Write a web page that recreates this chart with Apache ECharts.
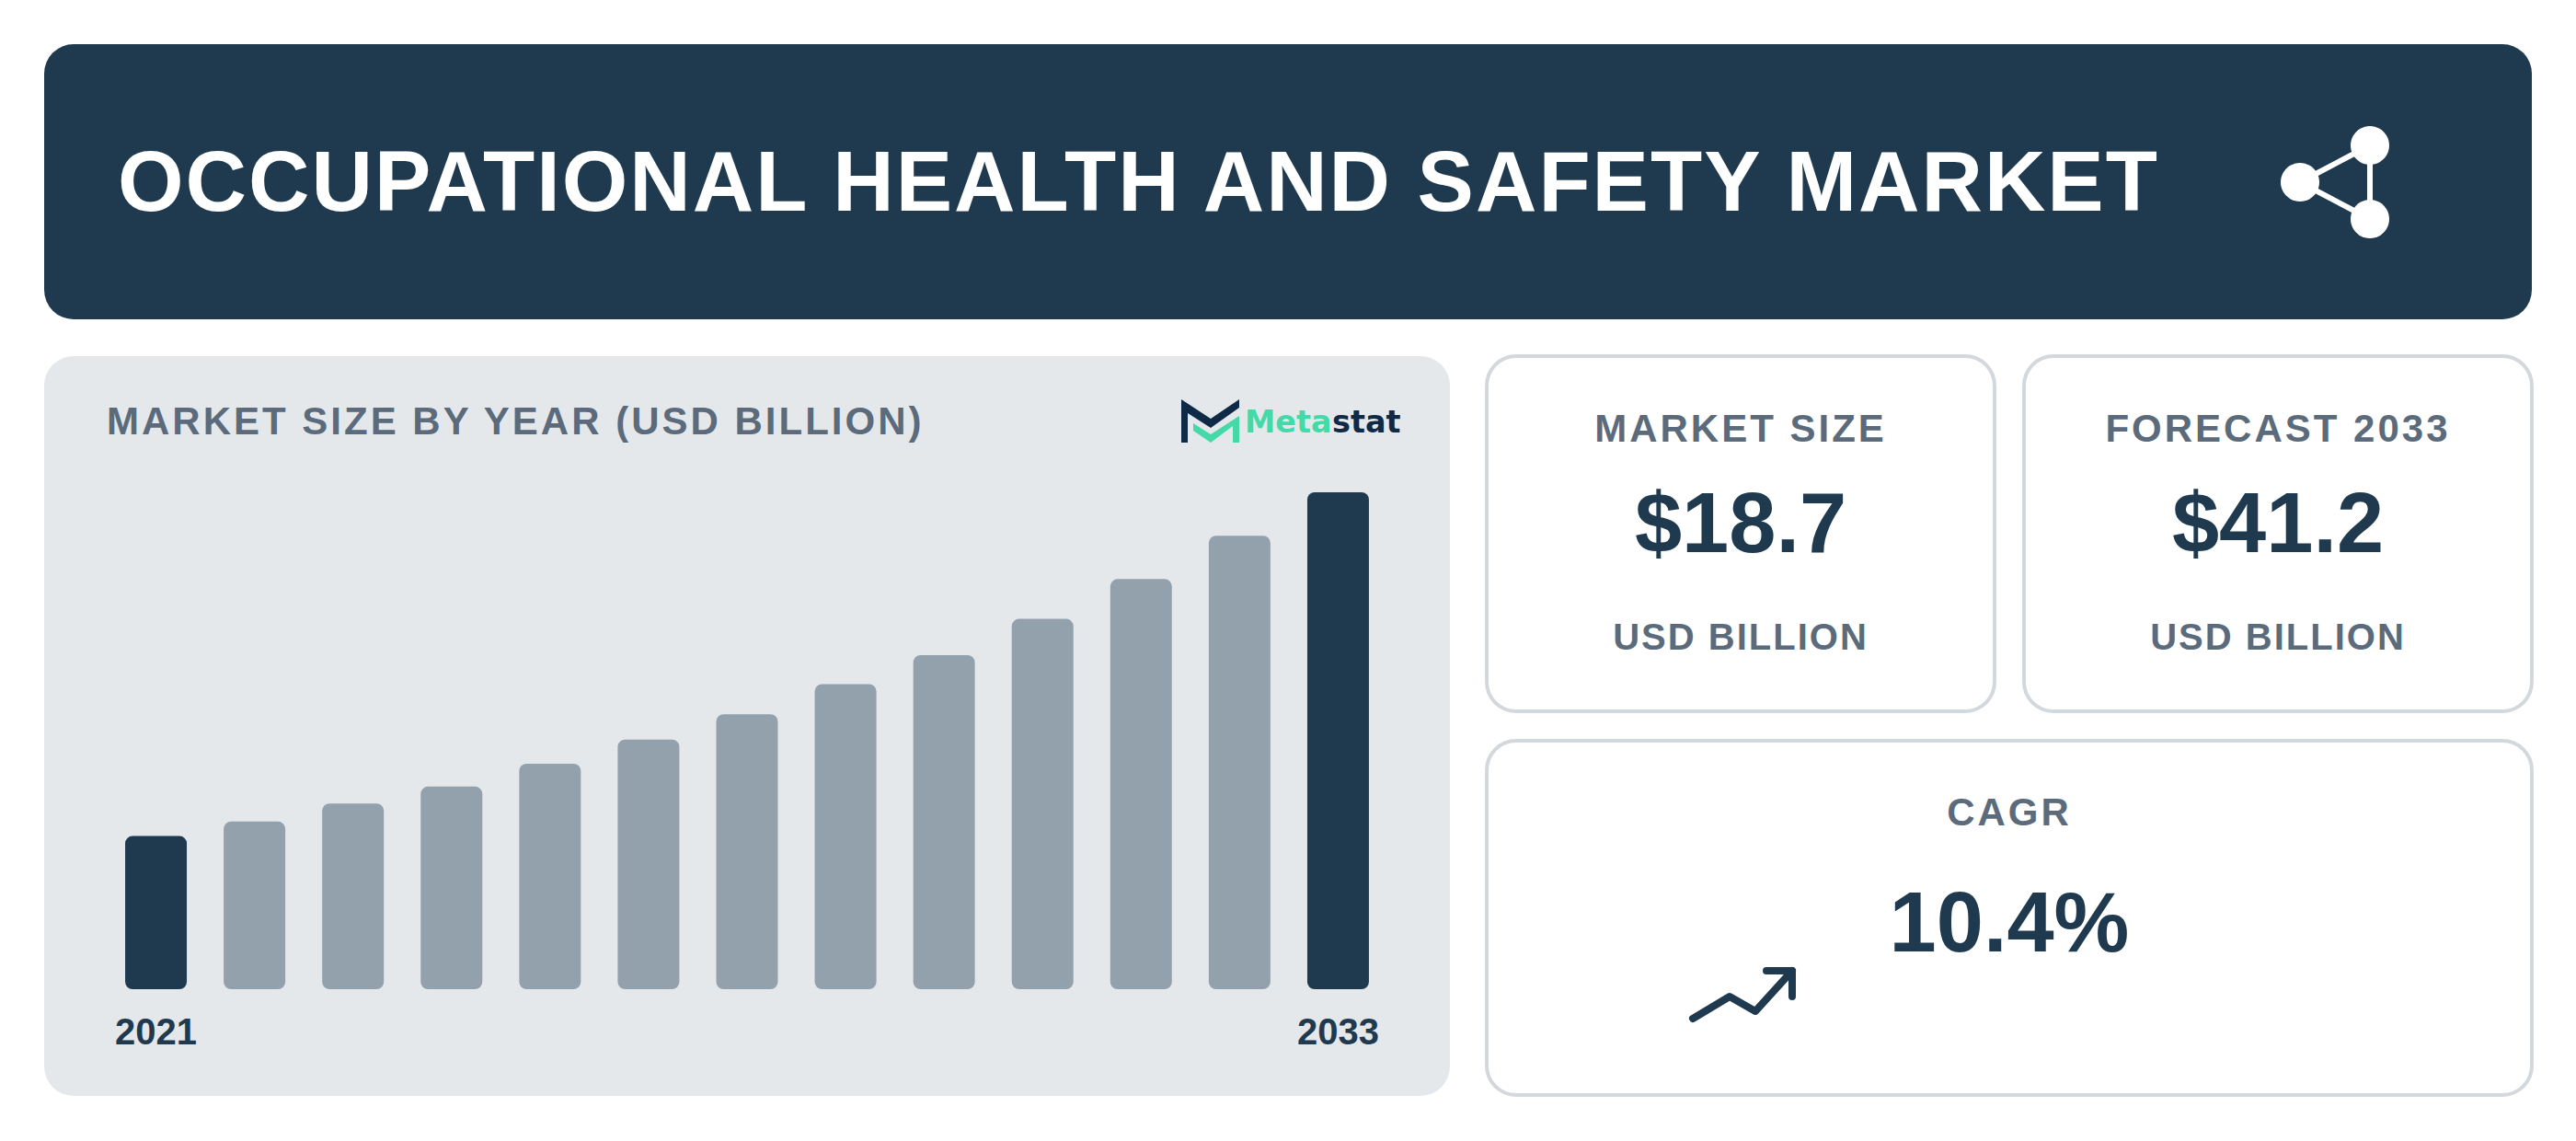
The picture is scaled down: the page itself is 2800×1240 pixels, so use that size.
<!DOCTYPE html>
<html lang="en">
<head>
	<meta charset="utf-8" />
	<title>Occupational Health and Safety Market</title>
	<style type="text/css">
		html,body{margin:0;padding:0;background:#fff;}
		#main{width:2800px;height:1240px;}
	</style>
</head>
<body>
	<div id="main"></div>
<script src="https://cdn.jsdelivr.net/npm/echarts@6/dist/echarts.min.js"></script>
<script>
	// values
	var years = ['2021','2022','2023','2024','2025','2026','2027','2028','2029','2030','2031','2032','2033'];
	var marketSize = [12.7,13.9,15.4,16.8,18.7,20.7,22.8,25.3,27.7,30.7,34.0,37.6,41.2];
	var chartTitle = 'OCCUPATIONAL HEALTH AND SAFETY MARKET';
	var panelTitle = 'MARKET SIZE BY YEAR (USD BILLION)';
	var cardLabels = ['MARKET SIZE','FORECAST 2033','CAGR'];
	var cardValues = ['$18.7','$41.2','10.4%'];
	var cardUnit = 'USD BILLION';

	var DARK = '#1f3a4f', GREY = '#93a1ad', PANEL = '#e5e8eb', EDGE = '#d3d8dc', MUTED = '#5b6b7c';
	var FONT = '"Liberation Sans", Arial, sans-serif';
	var LOGO_FONT = '"DejaVu Sans", sans-serif';

	function label(text, x, y, size, color, align, font){
		return {
			type: 'text', z: 3, x: x, y: y,
			style: {
				text: text, fill: color, align: align || 'center', verticalAlign: 'middle',
				fontFamily: font || FONT, fontSize: size, fontWeight: 'bold'
			}
		};
	}
	function box(x, y, w, h, r, fill, stroke){
		return {
			type: 'rect', z: 0,
			shape: {x: x, y: y, width: w, height: h, r: r},
			style: {fill: fill, stroke: stroke || null, lineWidth: stroke ? 4 : 0}
		};
	}
	function circle(cx, cy, r){
		return {type: 'circle', z: 3, shape: {cx: cx, cy: cy, r: r}, style: {fill: '#fff'}};
	}
	function stroke(points, color, width){
		return {
			type: 'polyline', z: 3, shape: {points: points},
			style: {fill: null, stroke: color, lineWidth: width, lineCap: 'round', lineJoin: 'round'}
		};
	}
	function poly(points, color){
		return {type: 'polygon', z: 3, shape: {points: points}, style: {fill: color}};
	}

	var graphics = [
		// header
		box(48, 48, 2704, 299, 32, DARK),
		label(chartTitle, 128, 197, 92, '#fff', 'left'),
		stroke([[2576,158],[2500,198],[2576,238],[2576,158]], '#fff', 6),
		circle(2576, 158, 21), circle(2500, 198, 21), circle(2576, 238, 21),
		// chart panel
		box(48, 387, 1528, 804, 32, PANEL),
		label(panelTitle, 116, 457, 42, MUTED, 'left'),
		// logo
		poly([[1284,434],[1316,455],[1347,434],[1347,443],[1316,465],[1291,449],[1291,481],[1284,481]], '#0f2a47'),
		poly([[1297,460],[1316,472],[1347,452],[1347,481],[1340,481],[1340,463],[1316,481],[1297,468]], '#46d9a8'),
		label('Meta', 1353, 458, 33.5, '#46d9a8', 'left', LOGO_FONT),
		label('stat', 1448, 458, 33.5, '#0f2a47', 'left', LOGO_FONT),
		// KPI cards
		box(1616, 387, 552, 386, 32, '#fff', EDGE),
		box(2200, 387, 552, 386, 32, '#fff', EDGE),
		box(1616, 805, 1136, 385, 32, '#fff', EDGE),
		label(cardLabels[0], 1892, 465, 42, MUTED),
		label(cardValues[0], 1892, 568, 92, DARK),
		label(cardUnit, 1892, 692, 40, MUTED),
		label(cardLabels[1], 2476, 465, 42, MUTED),
		label(cardValues[1], 2476, 568, 92, DARK),
		label(cardUnit, 2476, 692, 40, MUTED),
		label(cardLabels[2], 2184, 882, 42, MUTED),
		label(cardValues[2], 2184, 1002, 92, DARK),
		// trend arrow
		stroke([[1840,1107],[1880,1083],[1908,1099],[1948,1055]], DARK, 8),
		stroke([[1920,1055],[1948,1055],[1948,1083]], DARK, 8)
	];

	var myChart = echarts.init(document.getElementById('main'), null, {renderer: 'svg'});
	myChart.setOption({
		animation: false,
		backgroundColor: '#fff',
		textStyle: {fontFamily: FONT},
		graphic: graphics,
		grid: {left: 116, top: 535, width: 1392, height: 540},
		xAxis: {
			type: 'category',
			data: years,
			axisLine: {show: false},
			axisTick: {show: false},
			axisLabel: {
				interval: function(i){ return i === 0 || i === years.length - 1; },
				color: DARK, fontSize: 40, fontWeight: 'bold', fontFamily: FONT, margin: 26
			}
		},
		yAxis: {type: 'value', min: 0, max: 41.2, show: false, splitLine: {show: false}},
		series: [{
			type: 'bar',
			z: 2,
			barWidth: 67,
			silent: true,
			data: marketSize.map(function(v, i){
				var ends = i === 0 || i === marketSize.length - 1;
				return {value: v, itemStyle: {color: ends ? DARK : GREY, borderRadius: 8}};
			})
		}]
	});

	// canvas text has no tracking, so the spaced labels get it on the svg nodes
	var tracking = {};
	tracking[chartTitle] = 2;
	tracking[panelTitle] = 3;
	cardLabels.forEach(function(t){ tracking[t] = 3; });
	tracking[cardUnit] = 2;
	myChart.getDom().querySelectorAll('text').forEach(function(node){
		var px = tracking[node.textContent];
		if (px) node.style.letterSpacing = px + 'px';
	});
</script>
</body>
</html>
